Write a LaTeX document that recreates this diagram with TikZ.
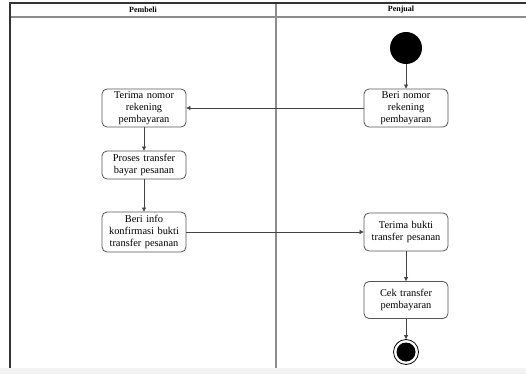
\documentclass[tikz,border=0pt]{standalone}
\usepackage{fontspec}
\setmainfont{Liberation Serif}
\usetikzlibrary{arrows.meta}
\definecolor{framec}{HTML}{333333}
\definecolor{lanec}{HTML}{8C8C8C}
\definecolor{boxc}{HTML}{555555}
\definecolor{arrc}{HTML}{444444}
\begin{document}
\begin{tikzpicture}[x=1pt,y=-1pt,
  act/.style={draw=boxc, line width=0.8pt, rounded corners=5pt, fill=white,
    minimum width=84pt, text width=80pt, align=center, inner sep=1pt,
    font=\fontsize{10.4}{11.8}\selectfont},
  flow/.style={draw=arrc, line width=0.7pt, -{Triangle[length=4pt,width=4pt]}},
  hdr/.style={font=\fontsize{8}{9}\selectfont\bfseries}]
\useasboundingbox (0,0) rectangle (526,374);
\fill[white] (0,0) rectangle (526,374);
\fill[black!5] (0,368) rectangle (526,374);
% swimlane frame
\draw[lanec, line width=1.2pt] (10,17) -- (526,17);
\draw[lanec, line width=1.2pt] (276,3) -- (276,368);
\draw[framec, line width=1.2pt] (10,368) -- (10,3) -- (526,3);
\node[hdr] (h1) at (143,10) {Pembeli};
\node[hdr] (h2) at (401,10) {Penjual};
% nodes
\node[circle, fill=black, minimum size=32pt, inner sep=0] (start) at (406,48) {};
\node[act, minimum height=38pt] (beri) at (406,108) {Beri nomor\\rekening\\pembayaran};
\node[act, minimum height=38pt] (terima) at (144,108) {Terima nomor\\rekening\\pembayaran};
\node[act, minimum height=28pt] (proses) at (144,165) {Proses transfer\\bayar pesanan};
\node[act, minimum height=40pt] (info) at (144,232) {Beri info\\konfirmasi bukti\\transfer pesanan};
\node[act, minimum height=38pt] (bukti) at (406,232) {Terima bukti\\transfer pesanan};
\node[act, minimum height=37pt] (cek) at (406,300) {Cek transfer\\pembayaran};
\node[circle, draw=black, line width=0.8pt, minimum size=25pt, inner sep=0] (end) at (406,352) {};
\node[circle, fill=black, minimum size=19pt, inner sep=0] (endin) at (end) {};
% connectors
\draw[flow] (start) -- (beri.north -| start);
\draw[flow] (beri) -- (terima);
\draw[flow] (terima) -- (proses);
\draw[flow] (proses) -- (info);
\draw[flow] (info) -- (bukti);
\draw[flow] (bukti.south -| end) -- (cek.north -| end);
\draw[flow] (cek.south -| end) -- (end);
\end{tikzpicture}
\end{document}
